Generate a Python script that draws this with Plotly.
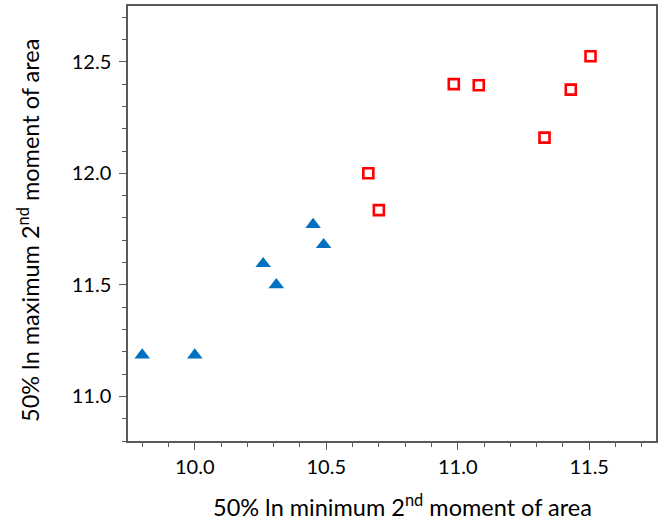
import plotly.graph_objects as go

# Data
blue_x = [9.80, 10.00, 10.26, 10.31, 10.45, 10.49]
blue_y = [11.185, 11.185, 11.595, 11.50, 11.77, 11.68]

red_x = [10.66, 10.70, 10.985, 11.08, 11.33, 11.43, 11.505]
red_y = [12.00, 11.835, 12.40, 12.395, 12.16, 12.375, 12.525]

x_ticks = [10.0, 10.5, 11.0, 11.5]
y_ticks = [11.0, 11.5, 12.0, 12.5]

FONT = "Lato"
AXIS_COLOR = "#595959"

fig = go.Figure()
fig.add_trace(go.Scatter(
    x=blue_x, y=blue_y, mode="markers",
    marker=dict(symbol="triangle-up", size=13.5, color="#0070C0",
                line=dict(width=0)),
    showlegend=False,
))
fig.add_trace(go.Scatter(
    x=red_x, y=red_y, mode="markers",
    marker=dict(symbol="square-open", size=10, color="#FF0000",
                line=dict(width=2.6, color="#FF0000")),
    showlegend=False,
))

axis_common = dict(
    showgrid=False, zeroline=False,
    showline=True, linecolor=AXIS_COLOR, linewidth=1.5, mirror=True,
    ticks="outside", ticklen=7, tickwidth=1.2, tickcolor=AXIS_COLOR,
    tickfont=dict(family=FONT, size=20, color="#000000"),
    tickformat=".1f",
)

fig.update_xaxes(
    range=[9.746, 11.754], tickvals=x_ticks,
    minor=dict(dtick=0.1, tick0=0, ticks="outside", ticklen=4,
               tickwidth=1.2, tickcolor=AXIS_COLOR),
    **axis_common,
)
fig.update_yaxes(
    range=[10.80, 12.75], tickvals=y_ticks, ticklabelstandoff=4,
    minor=dict(dtick=0.1, tick0=0, ticks="outside", ticklen=4,
               tickwidth=1.2, tickcolor=AXIS_COLOR),
    **axis_common,
)

fig.add_annotation(
    text="50% ln minimum 2<sup>nd</sup> moment of area",
    xref="paper", yref="paper", x=(404 - 128) / 530, y=0,
    xanchor="center", yanchor="middle", yshift=-64, showarrow=False,
    font=dict(family=FONT, size=23.5, color="#000000"),
)
fig.add_annotation(
    text="50% ln maximum 2<sup>nd</sup> moment of area",
    xref="paper", yref="paper", x=0, y=(441 - 231) / 435,
    xanchor="center", yanchor="middle", xshift=-99, textangle=-90,
    showarrow=False,
    font=dict(family=FONT, size=23.5, color="#000000"),
)

fig.update_layout(
    width=661, height=522,
    margin=dict(l=128, r=3, t=6, b=81),
    plot_bgcolor="white", paper_bgcolor="white",
)

fig.write_html("out.html", config={"displayModeBar": False},
               post_script="document.body.style.margin='0';")
